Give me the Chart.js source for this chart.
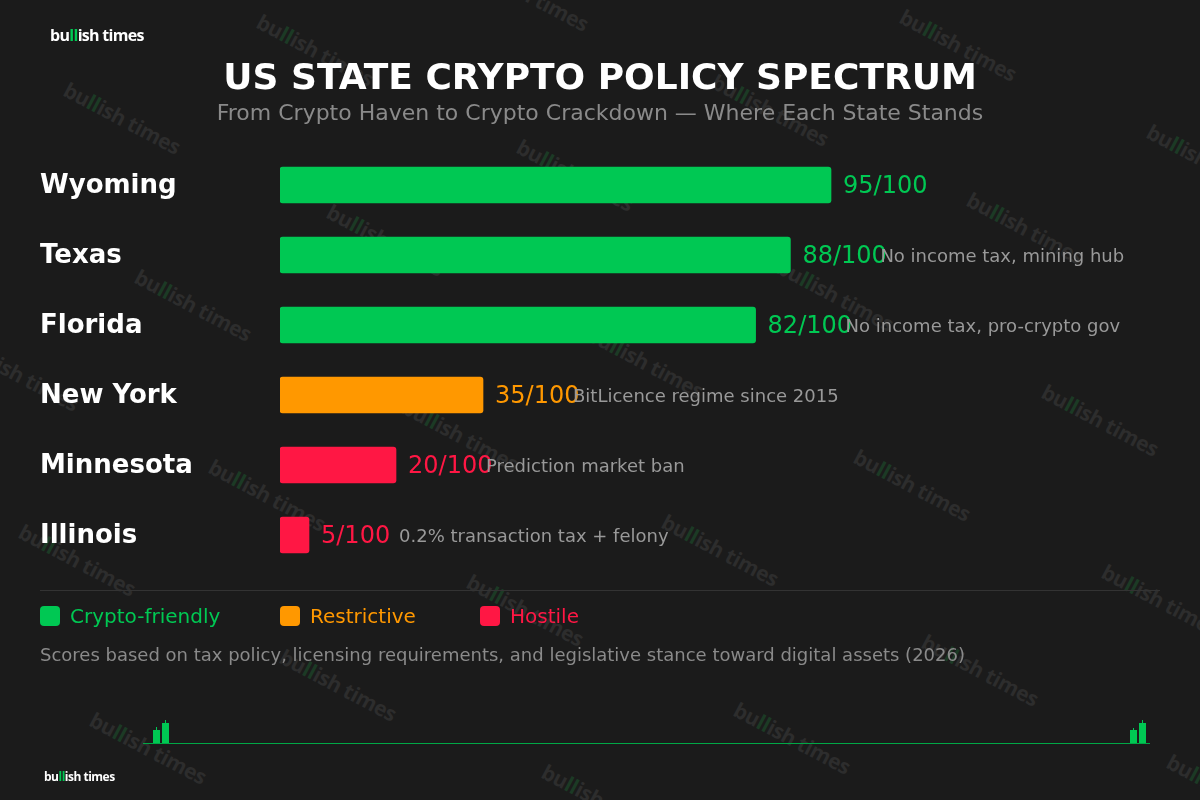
<!DOCTYPE html>
<html>
<head>
<meta charset="utf-8">
<script src="https://cdn.jsdelivr.net/npm/chart.js@4.4.1/dist/chart.umd.min.js"></script>
<style>
  html, body { margin: 0; padding: 0; }
  body { width: 1200px; height: 800px; background: #1b1b1b; position: relative; overflow: hidden; font-family: 'DejaVu Sans', sans-serif; }
  #wm { position: absolute; left: 0; top: 0; width: 1200px; height: 800px; }
  .wm { position: absolute; font-family: 'Open Sans', sans-serif; font-weight: bold; font-size: 21px; color: #2d2d2d; letter-spacing: -0.5px; white-space: nowrap; transform-origin: center center; }
  .wm .ll { color: #1c3a25; }
  #chart { position: absolute; left: 0; top: 0; }
  .logo { position: absolute; font-family: 'Open Sans', sans-serif; font-weight: bold; color: #fff; letter-spacing: -0.7px; white-space: nowrap; }
  .logo .ll { color: #00c853; }
  .title { position: absolute; left: 0; width: 1200px; text-align: center; white-space: nowrap; }
  .legend { position: absolute; top: 606px; height: 20px; display: flex; align-items: center; font-size: 20px; }
  .legend i { display: inline-block; width: 20px; height: 20px; border-radius: 4px; margin-right: 10px; }
  .note { position: absolute; left: 40px; top: 645px; font-size: 18px; color: #8a8a8a; line-height: 20px; white-space: nowrap; }
  .rule { position: absolute; left: 40px; top: 590px; width: 1120px; height: 1px; background: #333; }
  .base { position: absolute; left: 143px; top: 743px; width: 1007px; height: 1px; background: #00a846; }
  .candle { position: absolute; background: #00c853; }
</style>
</head>
<body>
<div id="wm"></div>
<canvas id="chart" width="1200" height="800"></canvas>

<div class="logo" style="left:50px; top:24px; font-size:16px; line-height:22px;">bu<span class="ll">ll</span>ish times</div>
<div class="title" style="top:57px; font-size:36px; line-height:40px; font-weight:bold; color:#fff;">US STATE CRYPTO POLICY SPECTRUM</div>
<div class="title" style="top:101px; font-size:22px; line-height:24px; color:#8a8a8a;">From Crypto Haven to Crypto Crackdown — Where Each State Stands</div>

<div class="rule"></div>
<div class="legend" style="left:40px; color:#00c853;"><i style="background:#00c853"></i>Crypto-friendly</div>
<div class="legend" style="left:280px; color:#ff9800;"><i style="background:#ff9800"></i>Restrictive</div>
<div class="legend" style="left:480px; color:#ff1744;"><i style="background:#ff1744"></i>Hostile</div>
<div class="note">Scores based on tax policy, licensing requirements, and legislative stance toward digital assets (2026)</div>

<div class="base"></div>
<div class="candle" style="left:156px; top:727px; width:1px; height:4px;"></div>
<div class="candle" style="left:153px; top:730px; width:7px; height:13px;"></div>
<div class="candle" style="left:165px; top:720px; width:1px; height:4px;"></div>
<div class="candle" style="left:162px; top:723px; width:7px; height:20px;"></div>
<div class="candle" style="left:1133px; top:728px; width:1px; height:3px;"></div>
<div class="candle" style="left:1130px; top:730px; width:7px; height:13px;"></div>
<div class="candle" style="left:1142px; top:720px; width:1px; height:4px;"></div>
<div class="candle" style="left:1139px; top:723px; width:7px; height:20px;"></div>

<div class="logo" style="left:44px; top:769px; font-size:12px; line-height:16px; letter-spacing:-0.5px;">bu<span class="ll">ll</span>ish times</div>

<script>
// data
const states = ['Wyoming', 'Texas', 'Florida', 'New York', 'Minnesota', 'Illinois'];
const scores = [95, 88, 82, 35, 20, 5];
const tiers = ['friendly', 'friendly', 'friendly', 'restrictive', 'hostile', 'hostile'];
const notes = ['', 'No income tax, mining hub', 'No income tax, pro-crypto gov', 'BitLicence regime since 2015', 'Prediction market ban', '0.2% transaction tax + felony'];
const maxScore = 100;

const tierColors = { friendly: '#00c853', restrictive: '#ff9800', hostile: '#ff1744' };

// watermark centres
const marks = [
  [122, 118], [315, 50], [530, -5], [958, 45], [1205, 160], [770, 110],
  [575, 175], [1025, 228], [385, 240], [193, 305], [835, 295], [645, 362],
  [20, 375], [1100, 420], [460, 435], [912, 485], [267, 495], [720, 550],
  [77, 560], [1160, 600], [525, 610], [980, 670], [338, 685], [148, 748],
  [792, 738], [600, 800], [1225, 790]
];
const wm = document.getElementById('wm');
marks.forEach(function (m) {
  const d = document.createElement('div');
  d.className = 'wm';
  d.innerHTML = 'bu<span class="ll">ll</span>ish times';
  wm.appendChild(d);
  d.style.left = (m[0] - d.offsetWidth / 2) + 'px';
  d.style.top = (m[1] - d.offsetHeight / 2) + 'px';
  d.style.transform = 'rotate(28deg)';
});

const valueLabels = {
  id: 'valueLabels',
  afterDatasetsDraw(chart) {
    const ctx = chart.ctx;
    const meta = chart.getDatasetMeta(0);
    ctx.save();
    ctx.textBaseline = 'middle';
    ctx.textAlign = 'left';
    meta.data.forEach(function (bar, i) {
      ctx.fillStyle = tierColors[tiers[i]];
      ctx.font = '24px "DejaVu Sans"';
      ctx.fillText(scores[i] + '/' + maxScore, bar.x + 12, bar.y + 2);
      if (notes[i]) {
        ctx.fillStyle = '#999999';
        ctx.font = '18px "DejaVu Sans"';
        ctx.fillText(notes[i], bar.x + 90, bar.y + 2);
      }
    });
    ctx.restore();
  }
};

const ctx = document.getElementById('chart').getContext('2d');
const chart = new Chart(ctx, {
  type: 'bar',
  data: {
    labels: states,
    datasets: [{
      data: scores,
      backgroundColor: tiers.map(t => tierColors[t]),
      barThickness: 36,
      borderRadius: 3,
      borderSkipped: false
    }]
  },
  options: {
    indexAxis: 'y',
    responsive: false,
    animation: false,
    layout: { padding: { left: 40, right: 340, top: 150, bottom: 230 } },
    plugins: {
      legend: { display: false },
      tooltip: { enabled: false }
    },
    scales: {
      x: { display: false, min: 0, max: maxScore },
      y: {
        grid: { display: false },
        border: { display: false },
        ticks: {
          color: '#ffffff',
          crossAlign: 'far',
          padding: 0,
          labelOffset: 1,
          font: { family: 'DejaVu Sans', size: 26, weight: 'bold' }
        },
        afterFit: function (scale) { scale.width = 240; }
      }
    }
  },
  plugins: [valueLabels]
});
</script>
</body>
</html>
